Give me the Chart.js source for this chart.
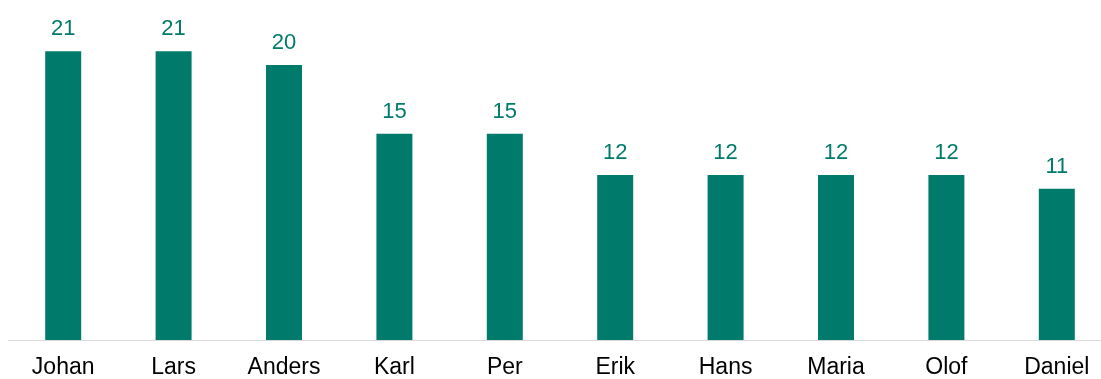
<!DOCTYPE html>
<html>
<head>
<meta charset="utf-8">
<script src="https://cdn.jsdelivr.net/npm/chart.js@4"></script>
<style>
  html, body { margin: 0; padding: 0; background: #fff; overflow: hidden; }
  #wrap { width: 1120px; height: 379px; }
</style>
</head>
<body>
<div id="wrap"><canvas id="myChart" width="1120" height="379"></canvas></div>
<script>
const names = ['Johan', 'Lars', 'Anders', 'Karl', 'Per', 'Erik', 'Hans', 'Maria', 'Olof', 'Daniel'];
const counts = [21, 21, 20, 15, 15, 12, 12, 12, 12, 11];

const green = '#007b6b';

// writes the count above each bar
const valueLabels = {
    id: 'valueLabels',
    afterDatasetsDraw(chart) {
        const c = chart.ctx;
        const meta = chart.getDatasetMeta(0);
        c.save();
        c.font = '22px "Liberation Sans", Arial, sans-serif';
        c.fillStyle = green;
        c.textAlign = 'center';
        c.textBaseline = 'alphabetic';
        meta.data.forEach((bar, i) => {
            c.fillText(counts[i], bar.x, bar.y - 16);
        });
        c.restore();
    }
};

const ctx = document.getElementById('myChart');

var chart = new Chart(ctx, {
    type: 'bar',
    data: {
        labels: names,
        datasets: [{
            data: counts,
            backgroundColor: green,
            borderWidth: 0,
            barPercentage: 1,
            categoryPercentage: 0.326
        }]
    },
    options: {
        responsive: false,
        animation: false,
        layout: { padding: { left: 8, right: 8, top: 10, bottom: 0 } },
        plugins: {
            legend: { display: false },
            tooltip: { enabled: false }
        },
        scales: {
            x: {
                grid: { display: false },
                border: { display: true, color: '#d9d9d9', width: 1 },
                ticks: {
                    color: '#000',
                    padding: 6,
                    font: { family: '"Liberation Sans", Arial, sans-serif', size: 23 }
                },
                afterFit(scale) {
                    scale.height = 39;
                }
            },
            y: {
                display: false,
                min: 0,
                max: 24
            }
        }
    },
    plugins: [valueLabels]
});
</script>
</body>
</html>
